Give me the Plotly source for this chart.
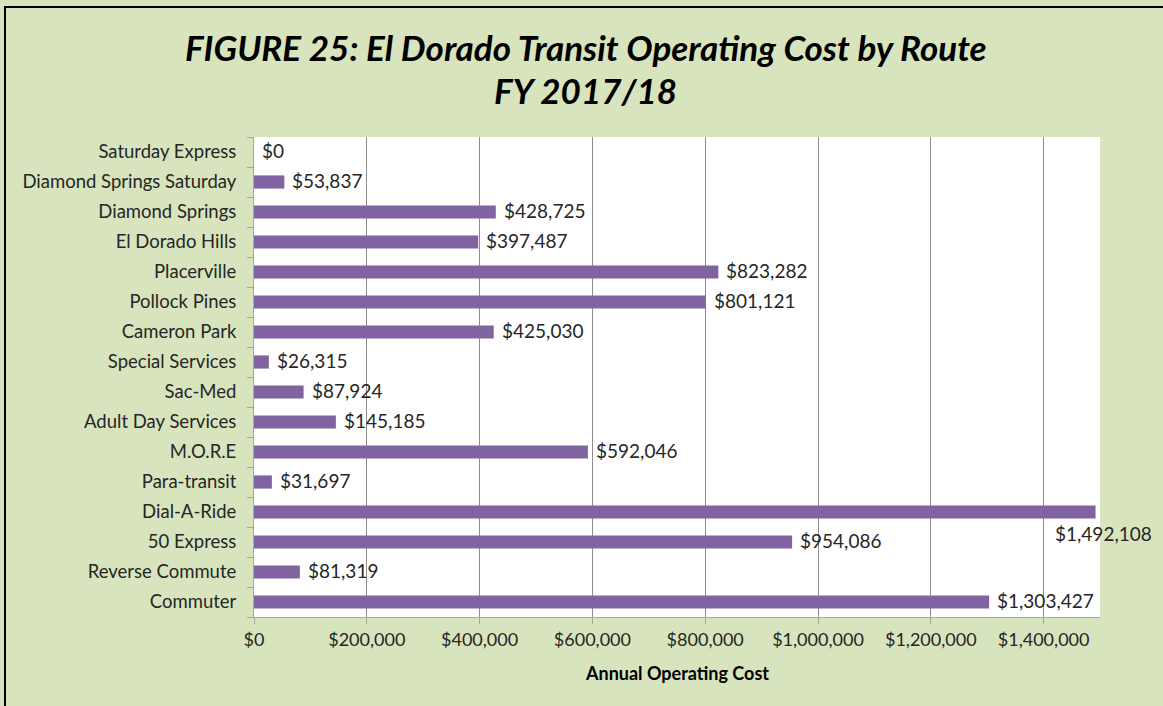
import plotly.graph_objects as go

routes = ["Commuter", "Reverse Commute", "50 Express", "Dial-A-Ride", "Para-transit",
          "M.O.R.E", "Adult Day Services", "Sac-Med", "Special Services", "Cameron Park",
          "Pollock Pines", "Placerville", "El Dorado Hills", "Diamond Springs",
          "Diamond Springs Saturday", "Saturday Express"]
costs = [1303427, 81319, 954086, 1492108, 31697, 592046, 145185, 87924, 26315, 425030,
         801121, 823282, 397487, 428725, 53837, 0]
tick_vals = [0, 200000, 400000, 600000, 800000, 1000000, 1200000, 1400000]
tick_text = ["$0", "$200,000", "$400,000", "$600,000", "$800,000", "$1,000,000",
             "$1,200,000", "$1,400,000"]
title_lines = ["FIGURE 25: El Dorado Transit Operating Cost by Route", "FY 2017/18"]
x_title = "Annual Operating Cost"

FONT = "Lato"
TXT = "#262626"

L, R, T, B = 254, 63, 137, 89
W, H = 1163, 706
pw, ph = W - L - R, H - T - B


def py(y_px):
    return (H - B - y_px) / ph


def px(x_px):
    return (x_px - L) / pw


fig = go.Figure()
fig.add_trace(go.Bar(
    y=routes, x=costs, orientation="h", width=0.44,
    marker=dict(color="#8064A2", line=dict(width=0)),
    hoverinfo="x+y",
))

x_max = 1500000
for r, c in zip(routes, costs):
    label = "${:,}".format(c)
    if c > x_max * 0.95:
        fig.add_annotation(x=c, y=r, text=label, showarrow=False, xanchor="center",
                           yanchor="middle", xshift=8, yshift=-21,
                           font=dict(family=FONT, size=19, color=TXT))
    else:
        fig.add_annotation(x=c, y=r, text=label, showarrow=False, xanchor="left",
                           yanchor="middle", xshift=6, yshift=1.5,
                           font=dict(family=FONT, size=19, color=TXT))

# title lines
for txt, yc in zip(title_lines, [47, 90]):
    fig.add_annotation(xref="paper", yref="paper", x=px(W / 2 + 4), y=py(yc),
                       text="<b><i>" + txt + "</i></b>", showarrow=False,
                       xanchor="center", yanchor="middle",
                       font=dict(family=FONT, size=35, color="#000000"))

# x-axis title
fig.add_annotation(xref="paper", yref="paper", x=0.5, y=py(673),
                   text="<b>" + x_title + "</b>", showarrow=False,
                   xanchor="center", yanchor="middle",
                   font=dict(family=FONT, size=18, color="#000000"))

fig.update_layout(
    width=W, height=H,
    margin=dict(l=L, r=R, t=T, b=B),
    paper_bgcolor="#D7E4BD",
    plot_bgcolor="#FFFFFF",
    showlegend=False,
    xaxis=dict(range=[0, x_max], tickvals=tick_vals, ticktext=tick_text,
               showgrid=True, gridcolor="#8C8C8C", gridwidth=1,
               showline=True, linecolor="#A6A6A6", linewidth=1,
               ticks="outside", ticklen=6, tickcolor="#A6A6A6",
               tickfont=dict(family=FONT, size=18, color=TXT),
               zeroline=False, fixedrange=True),
    yaxis=dict(showline=True, linecolor="#A6A6A6", linewidth=1,
               ticks="outside", ticklen=6, tickcolor="#A6A6A6", tickson="boundaries",
               tickfont=dict(family=FONT, size=18.5, color=TXT),
               showgrid=False, range=[-0.5, len(routes) - 0.5], fixedrange=True,
               ticklabelstandoff=13),
)

# outer border of the chart area
fig.add_shape(type="rect", xref="paper", yref="paper",
              x0=px(5), x1=px(W + 10), y0=py(H + 10), y1=py(7),
              line=dict(color="#000000", width=2), fillcolor="rgba(0,0,0,0)", layer="above")

fig.write_html("out.html", config={"displayModeBar": False},
               post_script="document.body.style.margin='0';document.body.style.overflow='hidden';")
